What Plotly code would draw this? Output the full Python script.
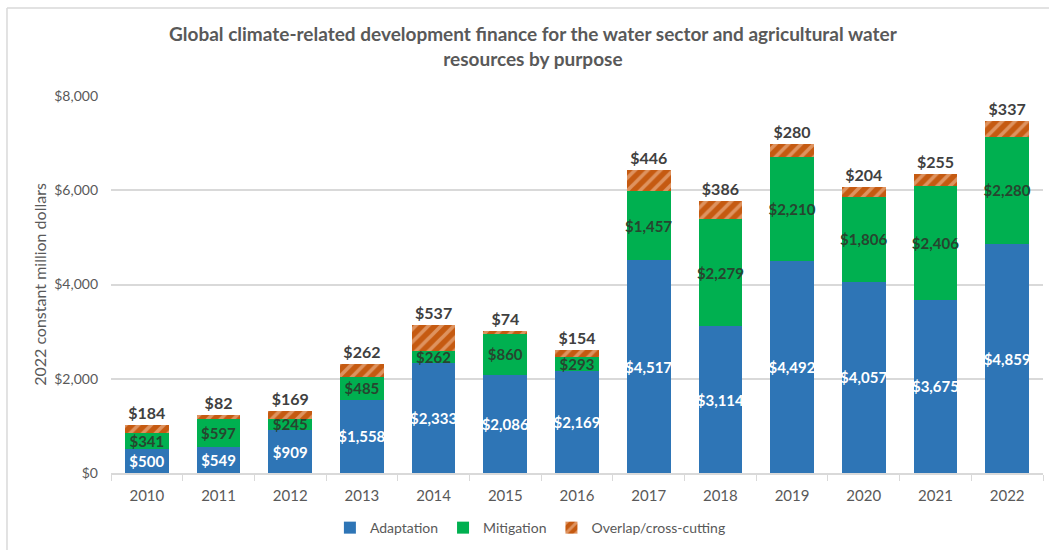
import plotly.graph_objects as go

years = ["2010", "2011", "2012", "2013", "2014", "2015", "2016",
         "2017", "2018", "2019", "2020", "2021", "2022"]
adaptation = [500, 549, 909, 1558, 2333, 2086, 2169, 4517, 3114, 4492, 4057, 3675, 4859]
mitigation = [341, 597, 245, 485, 262, 860, 293, 1457, 2279, 2210, 1806, 2406, 2280]
overlap = [184, 82, 169, 262, 537, 74, 154, 446, 386, 280, 204, 255, 337]

FONT = "Lato"
GREY = "#595959"
LINE = "#d9d9d9"


def money(vals):
    return [f"${v:,}" for v in vals]


fig = go.Figure()

fig.add_trace(go.Bar(
    name="Adaptation", x=years, y=adaptation,
    marker=dict(color="#2E75B6", line=dict(width=0)),
    text=money(adaptation), textposition="inside", insidetextanchor="middle",
    textangle=0, constraintext="none",
    textfont=dict(family=FONT, size=15, color="white", weight="bold"),
    hoverinfo="skip",
))
fig.add_trace(go.Bar(
    name="Mitigation", x=years, y=mitigation,
    marker=dict(color="#00B050", line=dict(width=0)),
    text=money(mitigation), textposition="inside", insidetextanchor="middle",
    textangle=0, constraintext="none",
    textfont=dict(family=FONT, size=15, color="#27452f", weight="bold"),
    hoverinfo="skip",
))
fig.add_trace(go.Bar(
    name="Overlap/cross-cutting", x=years, y=overlap,
    marker=dict(color="#C55A11", line=dict(width=0),
                pattern=dict(shape="/", bgcolor="#C55A11", fgcolor="#F8CBAD",
                             size=9, solidity=0.4)),
    text=money(overlap), textposition="outside", textangle=0,
    constraintext="none", cliponaxis=False,
    textfont=dict(family=FONT, size=16, color="#404040", weight="bold"),
    hoverinfo="skip",
))

# light frame along the top and left edges of the chart area
frame = dict(type="line", xref="paper", yref="paper",
             line=dict(color=LINE, width=1.5), layer="below")
fig.add_shape(x0=-0.1116, x1=1.01, y0=1.2334, y1=1.2334, **frame)
fig.add_shape(x0=-0.1116, x1=-0.1116, y0=1.2334, y1=-0.21, **frame)

fig.update_layout(
    width=1049, height=550,
    margin=dict(l=111, r=6, t=96, b=77),
    paper_bgcolor="white", plot_bgcolor="white",
    barmode="stack", bargap=0.39,
    font=dict(family=FONT, color=GREY, size=14),
    title=dict(
        text="<b>Global climate-related development finance for the water sector and agricultural water<br>resources by purpose</b>",
        x=0.508, xanchor="center", y=0.925, yanchor="top",
        font=dict(family=FONT, size=19, color=GREY),
    ),
    xaxis=dict(
        type="category", showline=True, linecolor=LINE, linewidth=1.5,
        ticks="outside", tickson="boundaries", ticklen=6, tickcolor=LINE,
        ticklabelstandoff=8,
        tickfont=dict(size=15, color=GREY), showgrid=False,
    ),
    yaxis=dict(
        range=[0, 8000], dtick=2000, tickprefix="$", tickformat=",",
        showgrid=True, gridcolor=LINE, gridwidth=1.5, zeroline=False,
        showline=False, ticklabelstandoff=12,
        tickfont=dict(size=14, color=GREY),
        title=dict(text="2022 constant million dollars",
                   font=dict(size=16, color=GREY), standoff=3),
    ),
    legend=dict(
        orientation="h", x=0.45, xanchor="center", y=-0.146, yanchor="middle",
        font=dict(size=14, color=GREY), itemwidth=30, traceorder="normal",
    ),
)

fig.write_html("out.html")
